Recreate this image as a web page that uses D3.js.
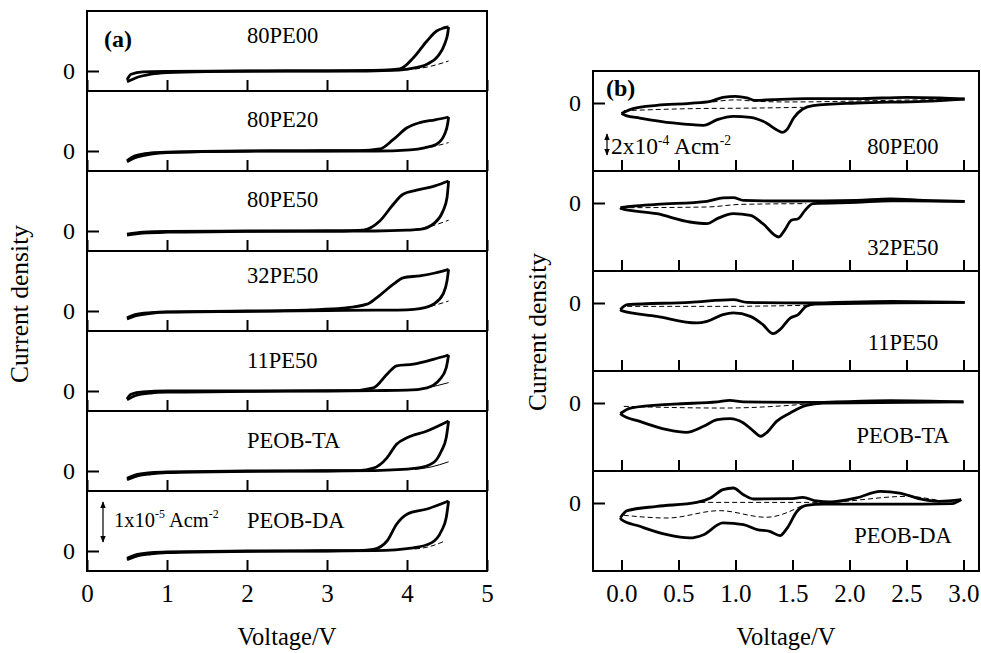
<!DOCTYPE html>
<html>
<head>
<meta charset="utf-8">
<script src="https://cdn.jsdelivr.net/npm/d3@7"></script>
<style>
body { margin: 0; background: #fff; }
svg { display: block; }
text { font-family: "Liberation Serif", "Times New Roman", serif; fill: #000; }
</style>
</head>
<body>
<svg id="chart" width="981" height="653"></svg>
<script>
// ---- data: panel (a), current density in 1e-5 A/cm2 vs voltage ----
const samplesA = ["80PE00", "80PE20", "80PE50", "32PE50", "11PE50", "PEOB-TA", "PEOB-DA"]
const baseKindA = ["dash", "dash", "dash", "dash", "thin", "thin", "dash"]
const xTicksA = [0, 1, 2, 3, 4, 5]

const a80PE00lo = [[0.5,-0.27],[0.6,-0.18],[0.8,-0.08],[1.0,-0.04],[1.5,-0.012],[2.5,0],[3.5,0],[3.9,0.02],[4.08,0.07],[4.25,0.17],[4.39,0.38],[4.47,0.67],[4.51,0.95],[4.52,1.1]]
const a80PE00up = [[0.5,-0.22],[0.55,-0.08],[0.7,-0.02],[1.0,-0.01],[2.0,0],[3.0,0.005],[3.7,0.02],[3.91,0.05],[4.08,0.33],[4.25,0.75],[4.37,1.0],[4.45,1.07],[4.52,1.1]]
const a80PE00base = [[3.9,0.02],[4.1,0.05],[4.3,0.12],[4.52,0.25]]

const a80PE20lo = [[0.5,-0.27],[0.6,-0.17],[0.8,-0.08],[1.0,-0.04],[1.5,-0.015],[2.5,0],[3.6,0],[4.04,0.03],[4.22,0.08],[4.37,0.17],[4.47,0.42],[4.51,0.7],[4.52,0.85]]
const a80PE20up = [[0.5,-0.24],[0.6,-0.12],[0.8,-0.05],[1.0,-0.03],[2.0,0],[3.4,0.01],[3.66,0.05],[3.83,0.29],[4.0,0.58],[4.16,0.71],[4.35,0.78],[4.52,0.85]]
const a80PE20base = [[4.0,0.03],[4.25,0.08],[4.52,0.21]]

const a80PE50lo = [[0.5,-0.1],[0.7,-0.05],[1.0,-0.03],[2.0,-0.01],[3.0,0],[3.6,0],[4.0,0.02],[4.16,0.04],[4.35,0.21],[4.45,0.5],[4.5,0.83],[4.52,1.25]]
const a80PE50up = [[0.5,-0.08],[0.7,-0.03],[1.0,-0.01],[2.0,0],[3.2,0],[3.45,0.02],[3.66,0.25],[3.83,0.67],[3.95,0.92],[4.12,1.02],[4.35,1.13],[4.52,1.25]]
const a80PE50base = [[4.1,0.04],[4.3,0.12],[4.52,0.27]]

const a32PE50lo = [[0.5,-0.2],[0.6,-0.12],[0.8,-0.06],[1.0,-0.03],[2.0,-0.01],[3.0,0.01],[3.6,0.02],[4.0,0.03],[4.16,0.06],[4.33,0.17],[4.45,0.42],[4.5,0.75],[4.52,1.04]]
const a32PE50up = [[0.5,-0.17],[0.6,-0.09],[0.8,-0.04],[1.0,-0.02],[2.0,0],[2.8,0.03],[3.2,0.07],[3.5,0.17],[3.62,0.33],[3.83,0.67],[3.95,0.83],[4.16,0.88],[4.35,0.95],[4.52,1.04]]
const a32PE50base = [[4.1,0.05],[4.3,0.12],[4.52,0.25]]

const a11PE50lo = [[0.5,-0.22],[0.6,-0.12],[0.8,-0.05],[1.0,-0.03],[2.0,-0.01],[3.0,0],[3.6,0.01],[4.0,0.02],[4.25,0.08],[4.41,0.29],[4.49,0.58],[4.52,0.9]]
const a11PE50up = [[0.5,-0.2],[0.55,-0.08],[0.7,-0.02],[1.0,0],[2.0,0],[3.3,0.01],[3.58,0.08],[3.75,0.42],[3.87,0.63],[4.08,0.67],[4.33,0.79],[4.52,0.9]]
const a11PE50base = [[4.0,0.02],[4.25,0.08],[4.52,0.21]]

const aTAlo = [[0.5,-0.22],[0.6,-0.14],[0.8,-0.07],[1.0,-0.04],[2.0,-0.01],[3.0,0],[3.6,0.01],[4.12,0.07],[4.33,0.21],[4.43,0.5],[4.49,0.83],[4.52,1.25]]
const aTAup = [[0.5,-0.18],[0.6,-0.1],[0.8,-0.04],[1.0,-0.02],[2.0,0],[3.4,0.01],[3.58,0.07],[3.75,0.33],[3.87,0.67],[4.0,0.83],[4.25,1.0],[4.52,1.25]]
const aTAbase = [[4.1,0.04],[4.3,0.1],[4.52,0.23]]

const aDAlo = [[0.5,-0.22],[0.6,-0.14],[0.8,-0.07],[1.0,-0.04],[2.0,-0.01],[3.0,0],[3.6,0.01],[4.08,0.08],[4.31,0.21],[4.43,0.5],[4.49,0.83],[4.52,1.25]]
const aDAup = [[0.5,-0.18],[0.6,-0.1],[0.8,-0.04],[1.0,-0.02],[2.0,0],[3.4,0.01],[3.58,0.04],[3.75,0.25],[3.87,0.67],[4.0,0.92],[4.25,1.05],[4.52,1.25]]
const aDAbase = [[4.1,0.05],[4.3,0.12],[4.45,0.23]]

// ---- data: panel (b), current density in 1e-4 A/cm2 vs voltage ----
const samplesB = ["80PE00", "32PE50", "11PE50", "PEOB-TA", "PEOB-DA"]
const xTicksB = [0, 0.5, 1.0, 1.5, 2.0, 2.5, 3.0]

const b80PE00up = [[0.0,-1.0],[0.1,-0.54],[0.31,-0.22],[0.6,-0.03],[0.78,0.16],[0.89,0.54],[1.0,0.63],[1.1,0.48],[1.17,0.25],[1.33,0.32],[1.62,0.41],[2.06,0.41],[2.5,0.54],[2.79,0.48],[3.01,0.38]]
const b80PE00lo = [[0.0,-1.0],[0.04,-1.2],[0.16,-1.43],[0.45,-1.9],[0.72,-2.13],[0.84,-1.59],[0.98,-1.27],[1.13,-1.36],[1.27,-1.9],[1.36,-2.54],[1.41,-2.79],[1.45,-2.54],[1.51,-1.43],[1.59,-0.57],[1.68,-0.25],[2.06,0],[2.65,0.16],[3.01,0.38]]
const b80PE00dashLo = [[0.02,-0.73],[0.6,-0.54],[1.19,-0.48],[1.59,-0.41]]
const b80PE00dashUp = [[0.8,0.1],[1.0,0.3],[1.2,0.15],[1.47,0.1],[2.35,0.25],[2.9,0.35]]

const b32PE50up = [[-0.01,-0.45],[0.1,-0.3],[0.31,-0.13],[0.75,0.16],[0.89,0.48],[0.98,0.51],[1.07,0.25],[1.48,0.19],[2.06,0.25],[2.36,0.38],[2.65,0.25],[3.01,0.16]]
const b32PE50lo = [[-0.01,-0.45],[0.0,-0.54],[0.31,-1.02],[0.6,-1.81],[0.75,-1.97],[0.84,-1.49],[0.98,-1.02],[1.13,-1.17],[1.24,-1.97],[1.38,-3.24],[1.43,-2.6],[1.49,-1.65],[1.55,-1.49],[1.61,-0.7],[1.68,-0.06],[2.06,0.06],[2.36,0.2],[3.01,0.16]]
const b32PE50dashLo = [[0.0,-0.45],[0.75,-0.38],[1.05,-0.13],[1.62,-0.06]]

const b11PE50up = [[-0.01,-0.63],[0.05,-0.16],[0.6,0.06],[0.98,0.32],[1.1,0.06],[1.62,0],[2.36,0.16],[3.01,0.06]]
const b11PE50lo = [[-0.01,-0.63],[0.0,-0.73],[0.31,-1.27],[0.66,-1.9],[0.75,-1.75],[0.89,-1.11],[0.98,-0.95],[1.13,-1.27],[1.24,-2.06],[1.33,-2.92],[1.39,-2.54],[1.48,-1.43],[1.55,-1.11],[1.62,-0.32],[1.7,-0.1],[3.01,0.06]]
const b11PE50dashLo = [[0.05,-0.32],[0.89,-0.32],[1.62,-0.22]]

const bTAup = [[-0.01,-1.0],[0.08,-0.48],[0.46,-0.1],[0.84,0.1],[0.95,0.25],[1.07,0.1],[1.62,0.06],[2.36,0.22],[3.0,0.1]]
const bTAlo = [[-0.01,-1.0],[0.0,-1.1],[0.16,-1.75],[0.4,-2.54],[0.57,-2.79],[0.72,-2.22],[0.84,-1.59],[0.95,-1.49],[1.07,-1.9],[1.16,-2.7],[1.22,-3.17],[1.27,-2.86],[1.36,-1.75],[1.48,-0.95],[1.62,-0.22],[1.77,0],[3.0,0.1]]
const bTAdashLo = [[0.02,-0.32],[0.89,-0.48],[1.48,-0.22],[1.62,-0.1]]

const bDAup = [[-0.01,-1.4],[0.05,-0.73],[0.31,-0.32],[0.66,0.06],[0.78,0.48],[0.89,1.27],[0.98,1.43],[1.07,0.79],[1.16,0.38],[1.48,0.41],[1.59,0.54],[1.71,0.19],[1.83,0.1],[2.06,0.48],[2.27,1.11],[2.44,0.95],[2.65,0.32],[2.79,0.16],[2.98,0.32]]
const bDAlo = [[-0.01,-1.4],[0.0,-1.59],[0.16,-2.22],[0.4,-3.02],[0.6,-3.33],[0.72,-3.02],[0.89,-1.9],[1.07,-2.06],[1.19,-2.54],[1.3,-2.7],[1.39,-3.11],[1.45,-2.44],[1.54,-0.79],[1.62,-0.22],[1.77,-0.1],[2.65,-0.1],[2.9,-0.06],[2.98,0.32]]
const bDAdashLo = [[0.02,-1.17],[0.4,-1.43],[0.86,-0.73],[1.27,-1.36],[1.59,-0.22]]
const bDAdashUp = [[0.69,0.06],[1.77,0.06],[2.5,0.63],[2.79,0.22]]

// tables the drawing code walks through
const curvesA = [
    { solid: [a80PE00lo, a80PE00up], base: [a80PE00base] },
    { solid: [a80PE20lo, a80PE20up], base: [a80PE20base] },
    { solid: [a80PE50lo, a80PE50up], base: [a80PE50base] },
    { solid: [a32PE50lo, a32PE50up], base: [a32PE50base] },
    { solid: [a11PE50lo, a11PE50up], base: [a11PE50base] },
    { solid: [aTAlo, aTAup], base: [aTAbase] },
    { solid: [aDAlo, aDAup], base: [aDAbase] },
]
const curvesB = [
    { solid: [b80PE00up, b80PE00lo], base: [b80PE00dashLo, b80PE00dashUp] },
    { solid: [b32PE50up, b32PE50lo], base: [b32PE50dashLo] },
    { solid: [b11PE50up, b11PE50lo], base: [b11PE50dashLo] },
    { solid: [bTAup, bTAlo], base: [bTAdashLo] },
    { solid: [bDAup, bDAlo], base: [bDAdashLo, bDAdashUp] },
]

const svg = d3.select("#chart")
const font = "Liberation Serif, Times New Roman, serif"

// arrow heads for the scale bars
const defs = svg.append("defs")
defs.append("marker")
    .attr("id", "arr")
    .attr("viewBox", "0 0 10 10")
    .attr("refX", 9).attr("refY", 5)
    .attr("markerWidth", 6).attr("markerHeight", 6)
    .attr("orient", "auto-start-reverse")
    .append("path").attr("d", "M0,1 L10,5 L0,9 Z").attr("fill", "#000")

// draws one column of stacked panels
function drawStack(cfg) {
    const g = svg.append("g")
    const n = cfg.samples.length
    cfg.samples.forEach((name, i) => {
        const top = cfg.top + i * cfg.ph
        const y = d3.scaleLinear().domain(cfg.yDomain).range([top + cfg.ph, top])
        const line = d3.line()
            .x(d => cfg.x(d[0]))
            .y(d => y(d[1]))
            .curve(d3.curveMonotoneX)

        // frame
        g.append("rect")
            .attr("x", cfg.x.range()[0]).attr("y", top)
            .attr("width", cfg.x.range()[1] - cfg.x.range()[0])
            .attr("height", cfg.ph)
            .attr("fill", "none").attr("stroke", "#000").attr("stroke-width", 2)

        // inward ticks along the bottom of each panel
        g.append("g")
            .attr("transform", `translate(0,${top + cfg.ph})`)
            .call(d3.axisTop(cfg.x).tickValues(cfg.xTicks).tickSize(11).tickFormat(""))
            .call(a => a.select(".domain").remove())
            .selectAll("line").attr("stroke-width", 2)

        // zero tick with its label
        g.append("g")
            .attr("transform", `translate(${cfg.x.range()[0]},0)`)
            .call(d3.axisLeft(y).tickValues([0]).tickSize(-12).tickPadding(12).tickFormat(d3.format("d")))
            .call(a => a.select(".domain").remove())
            .call(a => a.selectAll("line").attr("stroke-width", 2))
            .selectAll("text").attr("font-size", 24).attr("font-family", font)

        // reference (second scan) curves
        cfg.curves[i].base.forEach(arr => {
            const thin = cfg.baseKind[i] == "thin"
            g.append("path")
                .datum(arr)
                .attr("d", line)
                .attr("fill", "none").attr("stroke", "#000")
                .attr("stroke-width", 1)
                .attr("stroke-dasharray", thin ? null : "5,3")
        })
        // the main voltammograms
        cfg.curves[i].solid.forEach(arr => {
            g.append("path")
                .datum(arr)
                .attr("d", line)
                .attr("fill", "none").attr("stroke", "#000")
                .attr("stroke-width", 2.8)
                .attr("stroke-linejoin", "round")
        })

        g.append("text")
            .attr("x", cfg.labelX).attr("y", top + cfg.labelDy[i])
            .attr("text-anchor", cfg.labelAnchor)
            .attr("font-size", 22.5)
            .text(name)

        // tick numbers under the last panel only
        if (i == n - 1) {
            g.append("g")
                .attr("transform", `translate(0,${top + cfg.ph})`)
                .call(d3.axisBottom(cfg.x).tickValues(cfg.xTicks).tickSize(0).tickPadding(13).tickFormat(cfg.tickFmt))
                .call(a => a.select(".domain").remove())
                .selectAll("text").attr("font-size", 25).attr("font-family", font)
        }
    })

    const bottom = cfg.top + n * cfg.ph
    const xm = (cfg.x.range()[0] + cfg.x.range()[1]) / 2
    g.append("text")
        .attr("x", xm).attr("y", bottom + 74)
        .attr("text-anchor", "middle").attr("font-size", 24.5)
        .text("Voltage/V")
    g.append("text")
        .attr("transform", `translate(${cfg.yTitle.x},${cfg.yTitle.y}) rotate(-90)`)
        .attr("text-anchor", "middle").attr("font-size", 25.5)
        .text("Current density")
    g.append("text")
        .attr("x", cfg.tag.x).attr("y", cfg.tag.y)
        .attr("font-size", 24).attr("font-weight", "bold")
        .text(cfg.tag.t)
    return g
}

// ---- panel (a) ----
drawStack({
    samples: samplesA, curves: curvesA, baseKind: baseKindA,
    x: d3.scaleLinear().domain([0, 5]).range([87, 487]),
    xTicks: xTicksA, tickFmt: d3.format("d"),
    yDomain: [-0.5, 1.5], top: 11, ph: 80,
    labelX: 247, labelAnchor: "start", labelDy: [32, 36, 36, 32, 37, 37, 37],
    yTitle: { x: 28, y: 304 }, tag: { x: 104, y: 47, t: "(a)" },
})

// ---- panel (b) ----
drawStack({
    samples: samplesB, curves: curvesB, baseKind: samplesB.map(() => "dash"),
    x: d3.scaleLinear().domain([-0.25, 3.136]).range([593, 979]),
    xTicks: xTicksB, tickFmt: d3.format(".1f"),
    yDomain: [-6.48, 3.05], top: 71, ph: 100,
    labelX: 903, labelAnchor: "middle", labelDy: [83, 84, 79, 72, 72],
    yTitle: { x: 546, y: 332 }, tag: { x: 606, y: 96, t: "(b)" },
})

// scale bars
function scaleBar(x, y1, y2, tx, ty, size, mant, exp) {
    svg.append("line")
        .attr("x1", x).attr("x2", x).attr("y1", y1).attr("y2", y2)
        .attr("stroke", "#000").attr("stroke-width", 1.2)
        .attr("marker-start", "url(#arr)").attr("marker-end", "url(#arr)")
    const t = svg.append("text").attr("x", tx).attr("y", ty).attr("font-size", size)
    t.append("tspan").text(mant)
    t.append("tspan").attr("dy", -9).attr("font-size", size * 0.58).text(exp)
    t.append("tspan").attr("dy", 9).text(" Acm")
    t.append("tspan").attr("dy", -9).attr("font-size", size * 0.58).text("-2")
}
scaleBar(103, 502, 542, 114, 527, 20.5, "1x10", "-5")
scaleBar(607, 134, 155, 611, 154, 23.5, "2x10", "-4")
</script>
</body>
</html>
